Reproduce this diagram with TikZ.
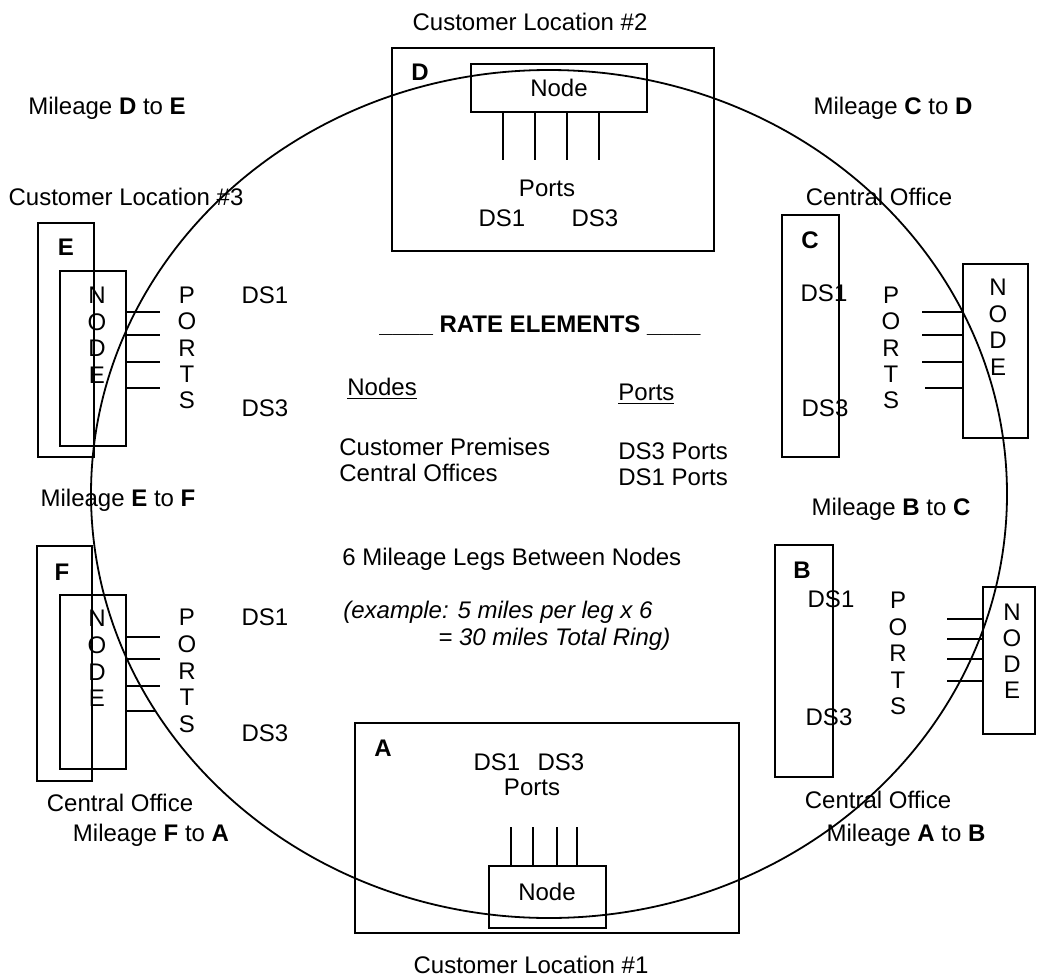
\documentclass[tikz,border=0pt]{standalone}
\usepackage{fontspec}
\setmainfont{Liberation Sans}
\begin{document}
\begin{tikzpicture}[x=0.5pt,y=-0.5pt]
\tikzset{
  ln/.style={line width=0.9pt},
  txt/.style={inner sep=0pt, text height=8.6pt, text depth=0pt, font=\fontsize{12pt}{14pt}\selectfont},
  btxt/.style={txt, font=\fontsize{12pt}{14pt}\selectfont\bfseries},
}
\useasboundingbox (0,0) rectangle (1039,980);
% ring
\draw[ln] (549,494) ellipse [x radius=229pt, y radius=212pt];

% ---------- D (top) ----------
\node[txt] (cl2) at (530,22) {Customer Location \#2};
\draw[ln] (392,48) rectangle (714,251);
\node[btxt] (Dl) at (420,72) {D};
\draw[ln] (471,64) rectangle (647,112);
\node[txt] (Dn) at (559,88) {Node};
\foreach \x in {503,535,567,599} \draw[ln] (\x,112) -- (\x,160);
\node[txt] (Dp) at (547,188) {Ports};
\node[txt] (Dd1) at (502,218) {DS1};
\node[txt] (Dd3) at (595,218) {DS3};

% ---------- A (bottom) ----------
\draw[ln] (355,723) rectangle (739,933);
\node[btxt] (Al) at (383,748) {A};
\node[txt] (Ad1) at (497,762) {DS1};
\node[txt] (Ad3) at (561,762) {DS3};
\node[txt] (Ap) at (532,787) {Ports};
\draw[ln] (489,866) rectangle (606,928);
\node[txt] (An) at (547,892) {Node};
\foreach \x in {511,533,557,577} \draw[ln] (\x,866) -- (\x,827);
\node[txt] (cl1) at (531,965) {Customer Location \#1};

% ---------- E (upper left) ----------
\node[txt] (cl3) at (126,197) {Customer Location \#3};
\draw[ln] (38,223) rectangle (94,457);
\node[btxt] (El) at (66,247) {E};
\draw[ln] (60,271) rectangle (126,446);
\foreach \c [count=\i from 0] in {N,O,D,E} \node[txt] (En\i) at (97,295+26.5*\i) {\c};
\foreach \y in {312,335,362,388} \draw[ln] (126,\y) -- (160,\y);
\foreach \c [count=\i from 0] in {P,O,R,T,S} \node[txt] (Ep\i) at (187,295+26.3*\i) {\c};
\node[txt] (Ed1) at (265,295) {DS1};
\node[txt] (Ed3) at (265,408) {DS3};

% ---------- F (lower left) ----------
\draw[ln] (37,546) rectangle (92,781);
\node[btxt] (Fl) at (62,572) {F};
\draw[ln] (60,595) rectangle (126,769);
\foreach \c [count=\i from 0] in {N,O,D,E} \node[txt] (Fn\i) at (97,618+26.7*\i) {\c};
\foreach \y in {637,659,686} \draw[ln] (126,\y) -- (160,\y);
\draw[ln] (125,711) -- (155,711);
\foreach \c [count=\i from 0] in {P,O,R,T,S} \node[txt] (Fp\i) at (187,617+26.7*\i) {\c};
\node[txt] (Fd1) at (265,617) {DS1};
\node[txt] (Fd3) at (265,733) {DS3};
\node[txt] (coF) at (120,803) {Central Office};

% ---------- C (upper right) ----------
\node[txt] (coC) at (879,197) {Central Office};
\draw[ln] (782,215) rectangle (839,457);
\node[btxt] (Cl) at (810,240) {C};
\node[txt] (Cd1) at (824,293) {DS1};
\node[txt] (Cd3) at (825,408) {DS3};
\foreach \c [count=\i from 0] in {P,O,R,T,S} \node[txt] (Cp\i) at (891,295+26.3*\i) {\c};
\draw[ln] (963,264) rectangle (1028,438);
\foreach \c [count=\i from 0] in {N,O,D,E} \node[txt] (Cn\i) at (998,287+26.5*\i) {\c};
\foreach \y in {312,335,362} \draw[ln] (922,\y) -- (963,\y);
\draw[ln] (925,388) -- (963,388);

% ---------- B (lower right) ----------
\draw[ln] (775,545) rectangle (833,777);
\node[btxt] (Bl) at (802,570) {B};
\node[txt] (Bd1) at (831,599) {DS1};
\node[txt] (Bd3) at (829,717) {DS3};
\foreach \c [count=\i from 0] in {P,O,R,T,S} \node[txt] (Bp\i) at (898,600+26.5*\i) {\c};
\draw[ln] (983,587) rectangle (1035,734);
\foreach \c [count=\i from 0] in {N,O,D,E} \node[txt] (Bn\i) at (1012,612+26*\i) {\c};
\foreach \y in {619,639,659,681} \draw[ln] (947,\y) -- (983,\y);
\node[txt] (coB) at (878,800) {Central Office};

% ---------- mileage labels ----------
\node[txt] (mDE) at (107,106) {Mileage \textbf{D} to \textbf{E}};
\node[txt] (mCD) at (893,106) {Mileage \textbf{C} to \textbf{D}};
\node[txt] (mEF) at (118,498) {Mileage \textbf{E} to \textbf{F}};
\node[txt] (mBC) at (891,507) {Mileage \textbf{B} to \textbf{C}};
\node[txt] (mFA) at (151,833) {Mileage \textbf{F} to \textbf{A}};
\node[txt] (mAB) at (906,833) {Mileage \textbf{A} to \textbf{B}};

% ---------- centre ----------
\node[btxt] (title) at (540,324) {\_\_\_\_ RATE ELEMENTS \_\_\_\_};
\node[txt, anchor=west] (hN) at (347,387) {\underline{Nodes}};
\node[txt, anchor=west] (hP) at (618,392) {\underline{Ports}};
\node[txt, anchor=west] (cp) at (339,447) {Customer Premises};
\node[txt, anchor=west] (co) at (339,473) {Central Offices};
\node[txt, anchor=west] (p3) at (618,451) {DS3 Ports};
\node[txt, anchor=west] (p1) at (618,477) {DS1 Ports};
\node[txt, anchor=west] (legs) at (342,557) {6 Mileage Legs Between Nodes};
\node[txt, anchor=west] (ex1) at (343,610) {\itshape (example: 5 miles per leg x 6};
\node[txt, anchor=west] (ex2) at (438,637) {\itshape = 30 miles Total Ring)};
\end{tikzpicture}
\end{document}
